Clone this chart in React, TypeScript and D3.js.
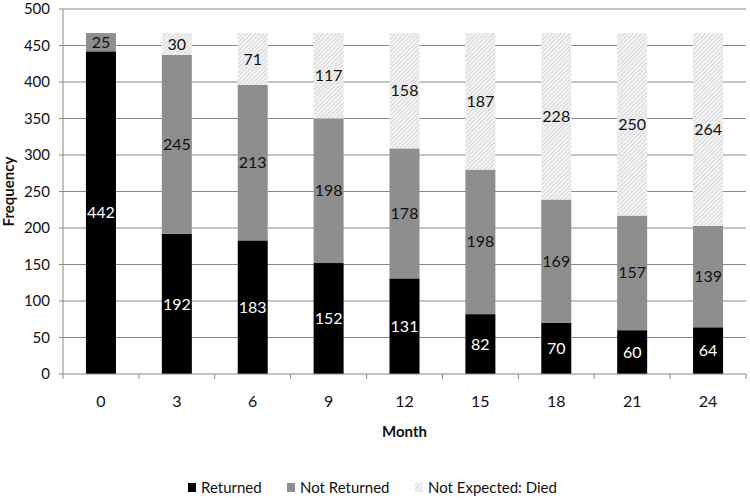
import React from "react";
import * as d3 from "d3";

const months = ["0", "3", "6", "9", "12", "15", "18", "21", "24"];
const returned = [442, 192, 183, 152, 131, 82, 70, 60, 64];
const notReturned = [25, 245, 213, 198, 178, 198, 169, 157, 139];
const died = [0, 30, 71, 117, 158, 187, 228, 250, 264];
const seriesNames = ["Returned", "Not Returned", "Not Expected: Died"];
const yTicks = [0, 50, 100, 150, 200, 250, 300, 350, 400, 450, 500];

const W = 750, H = 500;
const m = { left: 63, right: 4, top: 9, bottom: 126 };
const FONT = "Lato, 'Open Sans', sans-serif";

export default function App() {
  const x = d3.scaleBand().domain(months).range([m.left, W - m.right]).paddingInner(0).paddingOuter(0);
  const y = d3.scaleLinear().domain([0, 500]).range([H - m.bottom, m.top]);
  const rows = months.map((mo, i) => ({ month: mo, Returned: returned[i], "Not Returned": notReturned[i], "Not Expected: Died": died[i] }));
  const stack = d3.stack<any>().keys(seriesNames)(rows);
  const fills = ["#000000", "#8e8e8e", "url(#hatch)"];
  const labelColors = ["#ffffff", "#111111", "#111111"];
  const bw = 30;
  const bandEdges = months.map((mo) => x(mo)!).concat([W - m.right]);
  return (
    <svg width={W} height={H} style={{ position: "absolute", left: 0, top: 0, background: "#fff" }} fontFamily={FONT}>
      <defs>
        <pattern id="hatch" patternUnits="userSpaceOnUse" width="3" height="3" patternTransform="rotate(45)">
          <rect width="3" height="3" fill="#f4f4f4" />
          <line x1="0" y1="0" x2="0" y2="3" stroke="#cdcdcd" strokeWidth="1.5" />
        </pattern>
      </defs>
      {yTicks.map((t) => (
        <g key={t}>
          {t > 0 && <line x1={m.left} x2={W - m.right} y1={y(t)} y2={y(t)} stroke="#8a8a8a" strokeWidth={1} />}
          <line x1={m.left - 4} x2={m.left} y1={y(t)} y2={y(t)} stroke="#8a8a8a" />
          <text x={m.left - 13} y={y(t)} dy="0.35em" textAnchor="end" fontSize={15} fill="#111">{t}</text>
        </g>
      ))}
      {stack.map((s, si) => (
        <g key={si}>
          {s.map((d, i) => {
            const v = d[1] - d[0];
            if (v <= 0) return null;
            const cx = x(months[i])! + x.bandwidth() / 2;
            return (
              <rect key={i} x={cx - bw / 2} width={bw} y={y(d[1])} height={y(d[0]) - y(d[1])} fill={fills[si]} />
            );
          })}
        </g>
      ))}
      <line x1={m.left} x2={m.left} y1={m.top} y2={y(0)} stroke="#8a8a8a" />
      <line x1={m.left} x2={W - m.right} y1={y(0)} y2={y(0)} stroke="#8a8a8a" />
      {bandEdges.map((e, i) => (
        <line key={i} x1={e} x2={e} y1={y(0)} y2={y(0) + 5} stroke="#8a8a8a" />
      ))}
      {stack.map((s, si) => (
        <g key={"l" + si}>
          {s.map((d, i) => {
            const v = d[1] - d[0];
            if (v <= 0) return null;
            const cx = x(months[i])! + x.bandwidth() / 2;
            return (
              <text key={i} x={cx} y={(y(d[0]) + y(d[1])) / 2} dy="0.35em" textAnchor="middle" fontSize={16} fill={labelColors[si]}>{v}</text>
            );
          })}
        </g>
      ))}
      {months.map((mo) => (
        <text key={mo} x={x(mo)! + x.bandwidth() / 2} y={y(0) + 27} dy="0.35em" textAnchor="middle" fontSize={16} fill="#111">{mo}</text>
      ))}
      <text x={(m.left + W - m.right) / 2} y={432} dy="0.35em" textAnchor="middle" fontSize={15} fontWeight="bold" fill="#111">Month</text>
      <text transform={`translate(9,${(m.top + y(0)) / 2}) rotate(-90)`} dy="0.35em" textAnchor="middle" fontSize={15} fontWeight="bold" fill="#111">Frequency</text>
      {[
        { name: seriesNames[0], sx: 188, fill: fills[0] },
        { name: "Not Returned", sx: 287, fill: fills[1] },
        { name: seriesNames[2], sx: 415, fill: fills[2] },
      ].map((l) => (
        <g key={l.name}>
          <rect x={l.sx} y={483} width={8} height={9} fill={l.fill} />
          <text x={l.sx + 13} y={487.5} dy="0.35em" fontSize={15} fill="#111">{l.name}</text>
        </g>
      ))}
    </svg>
  );
}
